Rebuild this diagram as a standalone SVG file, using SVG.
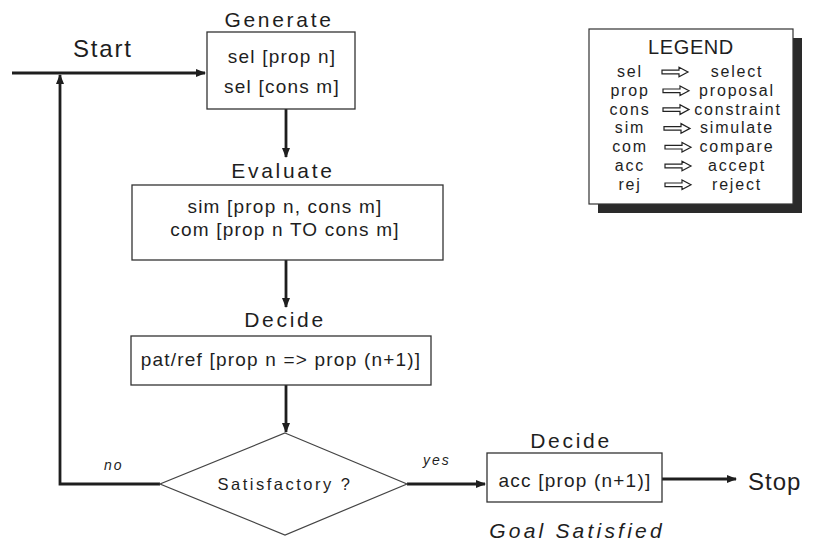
<svg xmlns="http://www.w3.org/2000/svg" width="816" height="545" viewBox="0 0 816 545">
  <defs>
    <marker id="head" viewBox="0 0 10 8" refX="9" refY="4" markerWidth="10" markerHeight="8" markerUnits="userSpaceOnUse" orient="auto">
      <path d="M0,0 L10,4 L0,8 Z" fill="#1e1e1e"/>
    </marker>
    <!-- hollow arrow used in the legend rows -->
    <path id="hollow" d="M0,-1.8 H17 V-4.8 L26,0 L17,4.8 V1.8 H0 Z" fill="#fff" stroke="#222" stroke-width="1.2" stroke-linejoin="miter"/>
  </defs>
  <style>
    text { font-family: "Liberation Sans", Arial, sans-serif; fill: #1e1e1e; }
    .title { font-size: 21px; letter-spacing: 2.7px; text-anchor: middle; }
    .big { font-size: 24px; letter-spacing: 1.8px; }
    .body { font-size: 19px; letter-spacing: 1.2px; text-anchor: middle; }
    .small { font-size: 14px; font-style: italic; letter-spacing: 2px; }
    .goal { font-size: 21px; font-style: italic; letter-spacing: 3.2px; text-anchor: middle; }
    .box { fill: #fff; stroke: #333; stroke-width: 1.3; }
    .leg { font-size: 16px; letter-spacing: 1.8px; text-anchor: middle; }
    .conn { fill: none; stroke: #1e1e1e; stroke-width: 2.8; }
  </style>

  <rect width="816" height="545" fill="#fff"/>

  <!-- connectors -->
  <g id="connectors">
    <path class="conn" d="M12,73 H205" marker-end="url(#head)"/>
    <path class="conn" d="M286,109 V157" marker-end="url(#head)"/>
    <path class="conn" d="M286,260 V307" marker-end="url(#head)"/>
    <path class="conn" d="M286,385 V432" marker-end="url(#head)"/>
    <path class="conn" d="M160,484 H60 V75" marker-end="url(#head)"/>
    <path class="conn" d="M407,484 H485" marker-end="url(#head)"/>
    <path class="conn" d="M662,479 H736" marker-end="url(#head)"/>
    <text class="small" x="104" y="470">no</text>
    <text class="small" x="423" y="465">yes</text>
  </g>

  <!-- start / stop terminals -->
  <g id="start">
    <text class="big" x="73" y="57">Start</text>
  </g>
  <g id="stop">
    <text class="big" x="748" y="490" style="letter-spacing:1px">Stop</text>
  </g>

  <!-- generate step -->
  <g id="generate">
    <text class="title" x="279" y="27">Generate</text>
    <rect class="box" x="207" y="32" width="148" height="77"/>
    <text class="body" x="282" y="63">sel [prop n]</text>
    <text class="body" x="282" y="93">sel [cons m]</text>
  </g>

  <!-- evaluate step -->
  <g id="evaluate">
    <text class="title" x="283" y="178">Evaluate</text>
    <rect class="box" x="132" y="185" width="311" height="75"/>
    <text class="body" x="285" y="213">sim [prop n, cons m]</text>
    <text class="body" x="285" y="236">com [prop n TO cons m]</text>
  </g>

  <!-- decide step -->
  <g id="decide">
    <text class="title" x="285" y="327">Decide</text>
    <rect class="box" x="131" y="336" width="300" height="49"/>
    <text class="body" x="281" y="366">pat/ref [prop n =&gt; prop (n+1)]</text>
  </g>

  <!-- decision diamond -->
  <g id="satisfactory">
    <path d="M285,433 L407,484 L285,535 L160,484 Z" fill="#fff" stroke="#444" stroke-width="1.2"/>
    <text x="285" y="490" style="font-size:16.5px;letter-spacing:2.5px;text-anchor:middle">Satisfactory ?</text>
  </g>

  <!-- accept step -->
  <g id="accept">
    <text class="title" x="571" y="448">Decide</text>
    <rect class="box" x="487" y="453" width="175" height="49"/>
    <text class="body" x="575" y="487">acc [prop (n+1)]</text>
    <text class="goal" x="577" y="538">Goal Satisfied</text>
  </g>

  <!-- legend -->
  <g id="legend">
    <rect x="598" y="38" width="204" height="175" fill="#2a2a2a"/>
    <rect x="589" y="29" width="204" height="175" fill="#fff" stroke="#333" stroke-width="1.2"/>
    <text x="691" y="54" style="font-size:20px;letter-spacing:0.6px;text-anchor:middle">LEGEND</text>
    <g>
      <text class="leg" x="630" y="77">sel</text>
      <use href="#hollow" x="662" y="72"/>
      <text class="leg" x="737" y="77">select</text>
    </g>
    <g>
      <text class="leg" x="630" y="95.8">prop</text>
      <use href="#hollow" x="663" y="90.8"/>
      <text class="leg" x="737" y="95.8">proposal</text>
    </g>
    <g>
      <text class="leg" x="630" y="114.6">cons</text>
      <use href="#hollow" x="663" y="109.6"/>
      <text class="leg" x="738" y="114.6">constraint</text>
    </g>
    <g>
      <text class="leg" x="630" y="133.4">sim</text>
      <use href="#hollow" x="664" y="128.4"/>
      <text class="leg" x="737" y="133.4">simulate</text>
    </g>
    <g>
      <text class="leg" x="630" y="152.2">com</text>
      <use href="#hollow" x="665" y="147.2"/>
      <text class="leg" x="737" y="152.2">compare</text>
    </g>
    <g>
      <text class="leg" x="630" y="171">acc</text>
      <use href="#hollow" x="665" y="166"/>
      <text class="leg" x="737" y="171">accept</text>
    </g>
    <g>
      <text class="leg" x="630" y="189.8">rej</text>
      <use href="#hollow" x="665" y="184.8"/>
      <text class="leg" x="737" y="189.8">reject</text>
    </g>
  </g>
</svg>
